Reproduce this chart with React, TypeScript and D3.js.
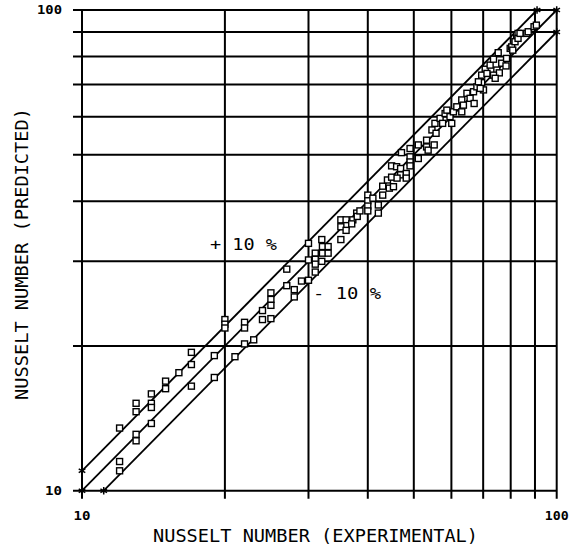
import React from "react";
import * as d3 from "d3";

const experimental = [
  12.0, 12.0, 12.0, 13.0, 13.0, 13.0, 13.0, 14.0, 14.0, 14.0, 14.0, 15.0, 15.0, 16.0, 17.0, 17.0, 17.0, 19.0, 19.0, 20.0,
  20.0, 20.0, 21.0, 22.0, 22.0, 22.0, 23.0, 24.0, 24.0, 25.0, 25.0, 25.0, 25.0, 27.0, 27.0, 28.0, 28.0, 29.0, 30.0, 30.0,
  30.0, 31.0, 31.0, 31.0, 31.0, 32.0, 32.1, 32.1, 32.0, 33.0, 33.0, 35.1, 35.1, 36.0, 36.0, 37.2, 37.0, 35.1, 36.0, 37.9,
  38.0, 38.5, 40.0, 40.0, 40.0, 40.0, 41.0, 42.1, 42.1, 43.0, 43.0, 44.0, 44.4, 45.3, 44.9, 44.9, 46.0, 46.9, 46.9, 46.1,
  48.2, 48.2, 47.1, 49.1, 49.1, 49.1, 49.1, 51.1, 51.1, 53.2, 53.2, 53.6, 55.2, 54.6, 55.4, 55.7, 56.8, 57.5, 58.2, 58.7,
  59.6, 60.6, 60.1, 61.6, 63.1, 63.1, 63.6, 64.7, 65.7, 66.8, 67.0, 67.9, 69.5, 70.1, 68.4, 69.0, 70.7, 69.5, 71.3, 72.4,
  73.6, 75.3, 74.8, 76.6, 78.4, 78.2, 75.7, 73.6, 74.2, 79.8, 80.4, 80.8, 81.7, 82.3, 82.9, 82.9, 83.7, 86.5, 87.1, 89.6,
  90.6,
];
const predicted = [
  11.5, 11.0, 13.5, 15.2, 14.6, 13.1, 12.7, 15.9, 15.2, 14.9, 13.8, 16.9, 16.3, 17.6, 19.4, 18.3, 16.5, 19.1, 17.2, 22.7,
  22.2, 21.8, 19.0, 22.4, 21.8, 20.2, 20.6, 23.7, 22.7, 25.8, 25.0, 24.3, 22.8, 28.9, 26.7, 26.2, 25.3, 27.3, 32.7, 30.2,
  27.4, 31.2, 30.3, 29.6, 28.5, 33.3, 32.2, 31.2, 30.0, 32.2, 31.2, 33.3, 36.6, 36.6, 35.6, 36.6, 35.9, 35.4, 34.8, 37.8,
  37.2, 38.2, 41.2, 40.1, 39.1, 38.2, 40.6, 39.3, 37.8, 43.0, 41.2, 44.3, 42.6, 42.9, 44.9, 47.4, 47.2, 46.8, 45.4, 44.7,
  45.7, 44.7, 50.5, 51.5, 49.5, 48.3, 47.4, 52.4, 49.1, 53.6, 51.9, 51.1, 52.4, 56.3, 58.1, 55.4, 59.5, 58.1, 60.9, 61.9,
  60.0, 61.4, 58.1, 62.9, 65.0, 61.4, 63.4, 67.1, 65.5, 67.6, 63.9, 69.2, 70.6, 68.2, 70.9, 68.7, 75.3, 73.2, 73.8, 76.8,
  79.0, 81.5, 75.0, 77.5, 79.3, 76.5, 74.0, 73.2, 72.1, 83.2, 83.8, 82.5, 85.9, 88.7, 89.4, 87.3, 89.4, 89.4, 90.1, 92.3,
  93.0,
];

const gridValues = [10, 20, 30, 40, 50, 60, 70, 80, 90, 100];
const tickLabels = ["10", "100"];
const bandFactors = [1.1, 1.0, 0.9];
const bandLabels = ["+ 10 %", "- 10 %"];
const xTitle = "NUSSELT NUMBER (EXPERIMENTAL)";
const yTitle = "NUSSELT NUMBER (PREDICTED)";

const W = 578;
const H = 546;
const x = d3.scaleLog().domain([10, 100]).range([82, 556.7]);
const y = d3.scaleLog().domain([10, 100]).range([490.7, 10]);

const plotFont = "'DejaVu Sans Mono', monospace";

export default function App() {
  const star = d3.symbol().type(d3.symbolAsterisk).size(40)() as string;
  const sq = 6;
  const x0 = x.range()[0];
  const x1 = x.range()[1];
  const y0 = y.range()[0];
  const y1 = y.range()[1];
  return (
    <svg width={W} height={H} style={{ position: "absolute", left: 0, top: 0, background: "#fff" }}>
      <g stroke="#000" strokeWidth={2} fill="none">
        {gridValues.map((v) => (
          <line key={"h" + v} x1={x0 - 9} x2={x1} y1={y(v)} y2={y(v)} />
        ))}
        {gridValues.map((v) => (
          <line key={"v" + v} x1={x(v)} x2={x(v)} y1={y1} y2={y0 + 8} />
        ))}
      </g>
      <g stroke="#000" strokeWidth={1.8} fill="none">
        {bandFactors.map((f) => {
          const xa = Math.max(10, 10 / f);
          const xb = Math.min(100, 100 / f);
          return <line key={"b" + f} x1={x(xa)} y1={y(xa * f)} x2={x(xb)} y2={y(xb * f)} />;
        })}
        {bandFactors.map((f) => {
          const xa = Math.max(10, 10 / f);
          const xb = Math.min(100, 100 / f);
          return (
            <g key={"s" + f}>
              <path d={star} transform={`translate(${x(xa)},${y(xa * f)})`} strokeWidth={1.5} />
              <path d={star} transform={`translate(${x(xb)},${y(xb * f)})`} strokeWidth={1.5} />
            </g>
          );
        })}
      </g>
      <g stroke="#000" strokeWidth={1.4} fill="#fff">
        {experimental.map((e, i) => (
          <rect key={i} x={x(e) - sq / 2} y={y(predicted[i]) - sq / 2} width={sq} height={sq} />
        ))}
      </g>
      <g fontFamily={plotFont} fontWeight="bold" fontSize={12} fill="#000">
        <text x={x(10)} y={520} textAnchor="middle" textLength={17} lengthAdjust="spacingAndGlyphs">{tickLabels[0]}</text>
        <text x={x(100)} y={520} textAnchor="middle" textLength={24} lengthAdjust="spacingAndGlyphs">{tickLabels[1]}</text>
        <text x={62} y={y(10) + 4} textAnchor="end" textLength={17} lengthAdjust="spacingAndGlyphs">{tickLabels[0]}</text>
        <text x={62} y={y(100) + 4} textAnchor="end" textLength={25} lengthAdjust="spacingAndGlyphs">{tickLabels[1]}</text>
      </g>
      <g fontFamily={plotFont} fontSize={17} fill="#000">
        <text x={153} y={542} textLength={325} lengthAdjust="spacingAndGlyphs">{xTitle}</text>
        <text
          transform={`translate(28,400) rotate(-90)`}
          x={0}
          y={0}
          textLength={292}
          lengthAdjust="spacingAndGlyphs"
        >
          {yTitle}
        </text>
        <text x={210} y={250} fontSize={16} textLength={67} lengthAdjust="spacingAndGlyphs">{bandLabels[0]}</text>
        <text x={313} y={299} fontSize={16} textLength={68} lengthAdjust="spacingAndGlyphs">{bandLabels[1]}</text>
      </g>
    </svg>
  );
}
